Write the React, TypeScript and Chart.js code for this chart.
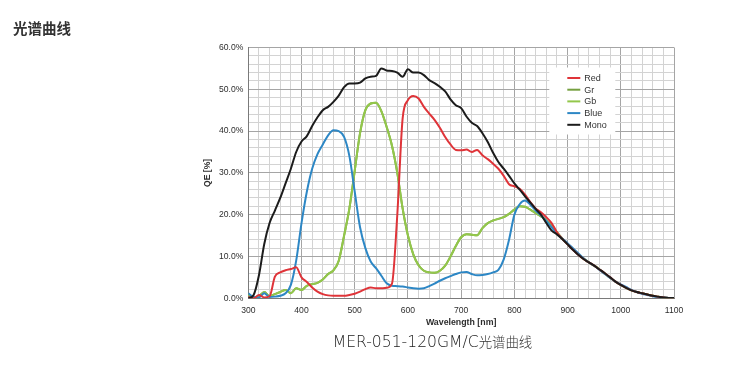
import React, { useEffect, useRef } from 'react';
import { Chart, registerables } from 'chart.js';

Chart.register(...registerables);

// Wavelength samples (nm)
const wavelengths = [
  300, 310, 320, 330, 340, 350, 360, 370, 380, 390,
  400, 410, 420, 430, 440, 450, 460, 470, 480, 490,
  500, 510, 520, 530, 540, 550, 560, 570, 580, 590,
  600, 610, 620, 630, 640, 650, 660, 670, 680, 690,
  700, 710, 720, 730, 740, 750, 760, 770, 780, 790,
  800, 810, 820, 830, 840, 850, 860, 870, 880, 890,
  900, 910, 920, 930, 940, 950, 960, 970, 980, 990,
  1000, 1010, 1020, 1030, 1040, 1050, 1060, 1070, 1080, 1090,
  1100,
];

// QE [%] per series
const redValues = [
  0.3, 0, 0.8, 0.2, 0.5, 5.2, 6.2, 6.7, 7, 7.4,
  5, 3.9, 2.6, 1.6, 1, 0.7, 0.6, 0.6, 0.6, 0.8,
  1.1, 1.6, 2.2, 2.6, 2.4, 2.4, 2.5, 3.5, 20, 43,
  47.4, 48.4, 47.8, 45.8, 44.2, 42.7, 40.8, 38.6, 36.8, 35.5,
  35.4, 35.6, 35, 35.5, 34.2, 33.3, 32.2, 31, 29.3, 27.3,
  26.8, 26.2, 24.8, 23, 21.5, 20.6, 19.4, 18, 15.8, 14.2,
  12.9, 11.6, 10.4, 9.4, 8.6, 7.8, 6.9, 6, 5, 4,
  3.2, 2.5, 1.9, 1.5, 1.2, 0.9, 0.6, 0.4, 0.2, 0.1,
  0.05,
];

const grValues = [
  0.8, 0.2, 0.5, 1.5, 0.5, 1, 1.5, 2, 1.2, 2.4,
  2, 3, 3.4, 3.7, 4.5, 5.8, 6.7, 9, 15, 21.5,
  30.5, 39.5, 45, 46.6, 46.8, 44.8, 41, 36.5, 30, 21.5,
  15, 10.5, 7.9, 6.6, 6.2, 6.1, 6.6, 7.8, 10, 12.5,
  14.6, 15.3, 15.2, 15.1, 16.8, 18, 18.6, 19, 19.4, 20.2,
  21.2, 22, 21.9, 21.2, 20.4, 19.6, 18.7, 17.3, 15.8, 14.3,
  13, 11.8, 10.6, 9.5, 8.6, 7.8, 6.9, 5.9, 4.9, 4,
  3.2, 2.5, 1.9, 1.5, 1.2, 0.9, 0.6, 0.4, 0.2, 0.1,
  0.05,
];

const gbValues = [
  0.8, 0.2, 0.5, 1.5, 0.5, 1, 1.5, 2, 1.2, 2.4,
  2, 3, 3.4, 3.7, 4.5, 5.8, 6.7, 9, 15, 21.5,
  30.5, 39.5, 45, 46.6, 46.8, 44.8, 41, 36.5, 30, 21.5,
  15, 10.5, 7.9, 6.6, 6.2, 6.1, 6.6, 7.8, 10, 12.5,
  14.6, 15.3, 15.2, 15.1, 16.8, 18, 18.6, 19, 19.4, 20.2,
  21.2, 22, 21.9, 21.2, 20.4, 19.6, 18.7, 17.3, 15.8, 14.3,
  13, 11.8, 10.6, 9.5, 8.6, 7.8, 6.9, 5.9, 4.9, 4,
  3.2, 2.5, 1.9, 1.5, 1.2, 0.9, 0.6, 0.4, 0.2, 0.1,
  0.05,
];

const blueValues = [
  1.2, 0.3, 0.2, 1.2, 0.3, 0.4, 0.6, 1.2, 3.2, 9,
  18, 25.5, 31, 34.5, 36.8, 39, 40.2, 40, 38.6, 34,
  25.5, 17, 12, 8.8, 7.2, 5.4, 3.6, 3, 2.9, 2.8,
  2.6, 2.4, 2.3, 2.4, 2.9, 3.5, 4.2, 4.8, 5.3, 5.8,
  6.2, 6.3, 5.8, 5.5, 5.6, 5.8, 6.2, 6.8, 9.3, 14,
  20, 22.5, 23.4, 22.4, 21, 19.8, 18.5, 17, 15.5, 14.3,
  13.2, 12, 10.8, 9.6, 8.6, 7.8, 6.8, 5.8, 4.9, 4,
  3.3, 2.7, 2, 1.5, 1.1, 0.8, 0.5, 0.3, 0.2, 0.1,
  0.05,
];

const monoValues = [
  0, 0.8, 5.5, 13, 18, 21, 24, 27.5, 31, 35,
  37.5, 38.8, 41.2, 43.3, 45, 45.8, 47, 48.5, 50.5, 51.4,
  51.4, 51.6, 52.6, 53, 53.2, 55, 54.5, 54.4, 54, 53,
  54.8, 54, 54, 53.4, 52.2, 51.5, 50.6, 49.5, 47.6, 46.2,
  45.5, 43.5, 42, 41.2, 39.5, 37.4, 34.8, 32.6, 31, 29.3,
  27.5, 26, 24.4, 22.9, 21.4, 20, 18, 16.2, 15.3, 14.2,
  12.9, 11.6, 10.4, 9.4, 8.6, 7.8, 6.9, 6, 5, 4,
  3.2, 2.5, 1.9, 1.5, 1.2, 0.9, 0.6, 0.4, 0.2, 0.1,
  0.05,
];

const seriesNames = ['Red', 'Gr', 'Gb', 'Blue', 'Mono'];
const seriesColors = ['#df3439', '#76a040', '#93c74b', '#2d87c5', '#1c1c1c'];
const seriesValues = [redValues, grValues, gbValues, blueValues, monoValues];
const seriesOrder = [1, 4, 3, 2, 0];

const FONT = '"Liberation Sans", Arial, sans-serif';

export default function App() {
  const canvasRef = useRef<HTMLCanvasElement>(null);

  useEffect(() => {
    if (!canvasRef.current) return;

    const legendPlugin = {
      id: 'boxLegend',
      afterDraw(chart: any) {
        const { ctx, chartArea } = chart;
        const bx = chartArea.left + 301;
        const by = chartArea.top + 20;
        ctx.save();
        ctx.fillStyle = '#ffffff';
        ctx.fillRect(bx, by, 66, 67);
        ctx.font = `9px ${FONT}`;
        ctx.textBaseline = 'middle';
        ctx.textAlign = 'left';
        chart.data.datasets.forEach((ds: any, i: number) => {
          const y = by + 10.5 + i * 11.7;
          ctx.strokeStyle = ds.borderColor;
          ctx.lineWidth = 2;
          ctx.beginPath();
          ctx.moveTo(bx + 18, y);
          ctx.lineTo(bx + 31, y);
          ctx.stroke();
          ctx.fillStyle = '#333333';
          ctx.fillText(ds.label, bx + 35, y + 0.5);
        });
        ctx.restore();
      },
    };

    const chart = new Chart(canvasRef.current, {
      type: 'line',
      data: {
        datasets: seriesNames.map((name, i) => ({
          label: name,
          data: wavelengths.map((w, k) => ({ x: w, y: seriesValues[i][k] })),
          borderColor: seriesColors[i],
          backgroundColor: seriesColors[i],
          borderWidth: 2,
          pointRadius: 0,
          fill: false,
          cubicInterpolationMode: 'monotone',
          order: seriesOrder[i],
        })),
      },
      options: {
        animation: false,
        responsive: false,
        devicePixelRatio: 1,
        layout: { padding: { left: 202.3, top: 47.5, right: 66, bottom: 43.7 } },
        plugins: {
          legend: { display: false },
          tooltip: { enabled: false },
        },
        scales: {
          x: {
            type: 'linear',
            min: 300,
            max: 1100,
            ticks: {
              stepSize: 20,
              autoSkip: false,
              maxRotation: 0,
              padding: 7,
              color: '#2e2e2e',
              font: { family: FONT, size: 8.6 },
              callback: (v: any) => (Math.round(v) % 100 === 0 ? String(Math.round(v)) : ''),
            },
            grid: {
              drawTicks: false,
              color: (c: any) =>
                c.tick && Math.round(c.tick.value) % 100 === 0 ? '#a5a5a5' : '#d3d3d3',
              lineWidth: 1,
            },
            border: { color: '#7a7a7a', width: 1 },
            title: {
              display: true,
              text: 'Wavelength [nm]',
              color: '#2e2e2e',
              font: { family: FONT, size: 8.8, weight: 'bold' },
              padding: { top: 0, bottom: 2 },
            },
            afterFit: (s: any) => {
              s.height = 32;
            },
          },
          y: {
            type: 'linear',
            min: 0,
            max: 60,
            ticks: {
              stepSize: 2,
              autoSkip: false,
              padding: 5,
              color: '#2e2e2e',
              font: { family: FONT, size: 8.6 },
              callback: (v: any) =>
                Math.round(v) % 10 === 0 ? `${Number(v).toFixed(1)}%` : '',
            },
            grid: {
              drawTicks: false,
              color: (c: any) =>
                c.tick && Math.round(c.tick.value) % 10 === 0 ? '#a5a5a5' : '#d3d3d3',
              lineWidth: 1,
            },
            border: { color: '#7a7a7a', width: 1 },
            title: {
              display: true,
              text: 'QE [%]',
              color: '#2e2e2e',
              font: { family: FONT, size: 8.6, weight: 'bold' },
              padding: { top: 0, bottom: 0 },
            },
            afterFit: (s: any) => {
              s.width = 46;
            },
          },
        },
      },
      plugins: [legendPlugin],
    } as any);

    return () => chart.destroy();
  }, []);

  return (
    <div style={{ position: 'absolute', left: 0, top: 0, width: 740, height: 374, background: '#fff' }}>
      <canvas
        ref={canvasRef}
        width={740}
        height={374}
        style={{ position: 'absolute', left: 0, top: 0, width: 740, height: 374, display: 'block' }}
      />
      <div
        style={{
          position: 'absolute',
          left: 13,
          top: 18,
          lineHeight: '20px',
          fontSize: 14.5,
          fontWeight: 'bold',
          color: '#333',
          fontFamily: '"Noto Sans CJK SC", sans-serif',
          whiteSpace: 'nowrap',
        }}
      >
        光谱曲线
      </div>
      <div
        style={{
          position: 'absolute',
          left: 232.5,
          width: 400,
          top: 330,
          lineHeight: '22px',
          textAlign: 'center',
          color: '#1a1a1a',
          whiteSpace: 'nowrap',
        }}
      >
        <span style={{ fontFamily: '"DejaVu Sans", sans-serif', fontSize: 15.6, fontWeight: 200 }}>
          MER-051-120GM/C
        </span>
        <span style={{ fontFamily: '"Noto Sans CJK SC", sans-serif', fontSize: 13.4, fontWeight: 300, color: '#333' }}>
          光谱曲线
        </span>
      </div>
    </div>
  );
}
